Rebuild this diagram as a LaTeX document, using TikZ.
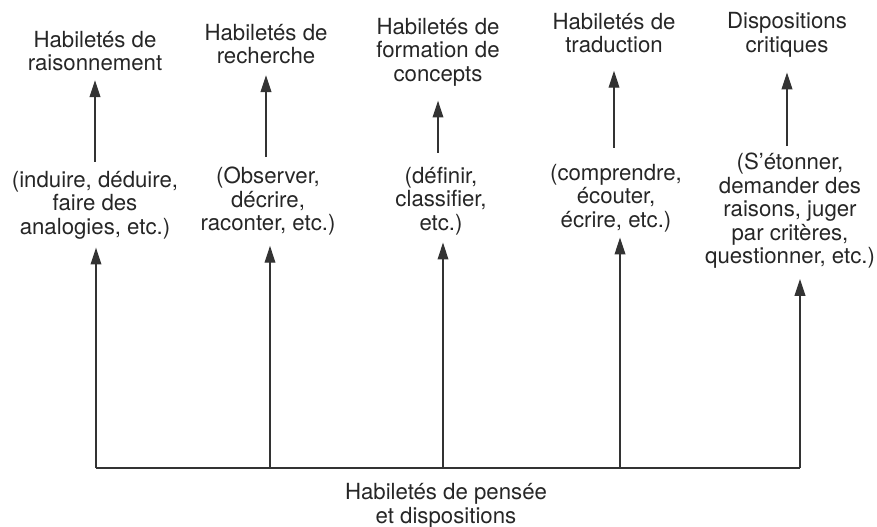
\documentclass[tikz,border=0pt]{standalone}
\usepackage{fontspec}
\setmainfont{TeX Gyre Heros}
\usetikzlibrary{arrows.meta}

\tikzset{
  etiq/.style={align=center, inner sep=0pt, text=black!85,
    font=\fontsize{15.8}{16.7}\selectfont},
  trait/.style={draw=black!80, line width=0.8pt},
  fleche/.style={trait, -{Triangle[length=4.2mm, width=2.7mm]}}
}

\begin{document}
\begin{tikzpicture}[x=0.025cm, y=-0.025cm]
  \useasboundingbox (0,0) rectangle (877,527);

  % habiletes (haut)
  \node[etiq] (hab1) at (95,51) {Habiletés de\\raisonnement};
  \node[etiq] (hab2) at (266,44) {Habiletés de\\recherche};
  \node[etiq] (hab3) at (438,52) {Habiletés de\\formation de\\concepts};
  \node[etiq] (hab4) at (614,33) {Habiletés de\\traduction};
  \node[etiq] (hab5) at (787,35) {Dispositions\\critiques};

  % exemples (milieu)
  \node[etiq] (ex1) at (95,205) {(induire, déduire,\\faire des\\analogies, etc.)};
  \node[etiq] (ex2) at (268,201.5) {(Observer,\\décrire,\\raconter, etc.)};
  \node[etiq] (ex3) at (441,201) {(définir,\\classifier,\\etc.)};
  \node[etiq] (ex4) at (616,198) {(comprendre,\\écouter,\\écrire, etc.)};
  \node[etiq] (ex5) at (790,211) {(S'étonner,\\demander des\\raisons, juger\\par critères,\\questionner, etc.)};

  % base
  \coordinate (b1) at (96,468);
  \coordinate (b2) at (270,468);
  \coordinate (b3) at (443,468);
  \coordinate (b4) at (620,468);
  \coordinate (b5) at (800,468);
  \node[etiq] (pensee) at (446,506) {Habiletés de pensée\\et dispositions};
  \draw[trait] (b1) -- (b5);

  % fleches du bas
  \draw[fleche, shorten >=2.1mm] (b1) -- (b1 |- ex1.south);
  \draw[fleche, shorten >=2.5mm] (b2) -- (b2 |- ex2.south);
  \draw[fleche, shorten >=1.85mm] (b3) -- (b3 |- ex3.south);
  \draw[fleche, shorten >=1.35mm] (b4) -- (b4 |- ex4.south);
  \draw[fleche, shorten >=2.5mm] (b5) -- (b5 |- ex5.south);

  % fleches du haut
  \draw[fleche, shorten <=2.25mm, shorten >=2.25mm] (hab1.south |- ex1.north) -- (hab1.south);
  \draw[fleche, shorten <=2.5mm, shorten >=2.75mm] (hab2.south |- ex2.north) -- (hab2.south);
  \draw[fleche, shorten <=3.5mm, shorten >=3.6mm] (hab3.south |- ex3.north) -- (hab3.south);
  \draw[fleche, shorten <=4mm, shorten >=4.4mm] (hab4.south |- ex4.north) -- (hab4.south);
  \draw[fleche, shorten <=1.75mm, shorten >=3.75mm] (hab5.south |- ex5.north) -- (hab5.south);
\end{tikzpicture}
\end{document}
